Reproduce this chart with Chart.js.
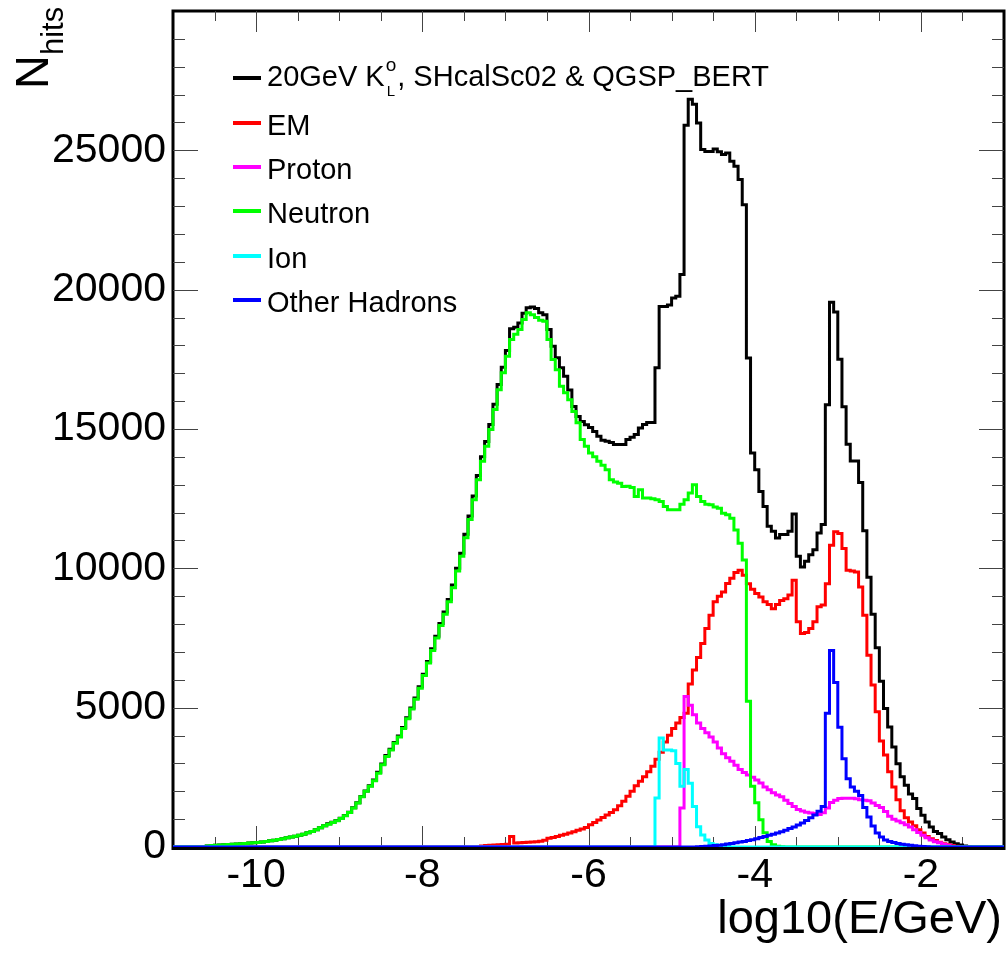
<!DOCTYPE html>
<html><head><meta charset="utf-8">
<script src="https://cdn.jsdelivr.net/npm/chart.js@4.4.1/dist/chart.umd.min.js"></script>
<style>html,body{margin:0;padding:0;background:#fff;overflow:hidden}canvas{display:block}</style>
</head><body>
<canvas id="c" width="1008" height="953"></canvas>
<script>
// ---- histogram binning (log10(E/GeV)) ----
const binLow = -11, binHigh = -1, binWidth = 0.05;

// ---- series values, one value per 0.05 bin, starting at the given bin low edge ----
const totalStart = -10.60;
const total = [
  40,50,60,70,80,90,100,110,120,130,
  140,150,165,180,200,220,240,270,300,330,
  360,390,420,460,510,560,620,690,760,830,
  890,950,1030,1130,1250,1410,1590,1810,2010,2200,
  2400,2680,2980,3280,3510,3750,3980,4290,4640,4990,
  5350,5750,6200,6660,7110,7560,8020,8430,8880,9400,
  10000,10540,11220,11880,12600,13330,14000,14550,15160,15890,
  16600,17220,17820,18600,18650,18800,19150,19350,19380,19320,
  19170,19100,18570,17970,17560,17200,16890,16400,15810,15450,
  15270,15150,15050,14910,14740,14600,14560,14520,14440,14440,
  14440,14620,14700,14800,15040,15160,15230,15230,17200,19400,
  19400,19450,19700,19760,20540,25900,26830,26650,25980,25030,
  24960,24960,25050,24950,24850,24900,24610,24430,23950,23050,
  17550,14140,13540,12760,12220,11510,11330,11090,11210,11210,
  11330,11950,10430,10050,10250,10490,10670,11270,11570,15870,
  19550,19200,17500,15800,14450,13850,13850,13080,11350,9680,
  8350,7150,5950,4970,4310,3590,2990,2520,2220,1900,
  1740,1380,1140,900,720,560,480,360,260,180,
  120,70,35,15
];
const emStart = -7.30;
const em = [
  40,50,60,70,80,90,100,380,140,150,
  160,170,180,190,210,240,310,340,380,420,
  460,500,550,600,650,700,800,880,970,1060,
  1150,1240,1340,1480,1640,1820,2000,2200,2360,2520,
  2700,2900,3150,3400,3770,4010,4250,4450,4650,4800,
  5850,6350,6800,7300,7840,8320,8800,9000,9150,9460,
  9640,9850,9930,9750,9450,9250,9100,8970,8800,8700,
  8550,8700,8850,8910,9040,9570,8080,7660,7700,7840,
  8080,8620,8680,9450,10830,11310,11250,10710,9930,9900,
  9870,9330,8320,6880,5810,4850,3800,3300,2700,2150,
  1700,1300,1050,900,760,620,500,380,300,230,
  170,120,80,50,25,10
];
const protonStart = -4.90;
const proton = [
  1400,5400,5090,4750,4450,4250,4100,3950,3770,3550,
  3350,3200,3080,2930,2780,2670,2580,2500,2400,2300,
  2150,2050,1950,1870,1800,1680,1560,1450,1350,1290,
  1250,1220,1200,1170,1230,1400,1600,1680,1740,1750,
  1750,1745,1730,1700,1680,1660,1580,1490,1420,1270,
  1100,1000,930,870,800,720,620,520,420,330,
  250,190,150,100,60,30,10
];
const neutronStart = -10.60;
const neutron = [
  40,50,60,70,80,90,100,110,120,130,
  140,150,165,180,200,220,240,270,300,330,
  360,390,420,460,510,560,620,690,760,820,
  880,940,1020,1120,1240,1400,1580,1800,2000,2180,
  2380,2650,2950,3250,3480,3720,3950,4250,4600,4950,
  5300,5700,6150,6600,7050,7500,7950,8350,8800,9300,
  9900,10430,11100,11750,12460,13180,13840,14380,14980,15700,
  16410,17020,17610,18210,18400,18570,18930,19170,19100,19000,
  18900,18870,18210,17490,17130,16530,16300,16050,15630,15220,
  14620,14380,14140,14000,13840,13700,13540,13180,13100,13050,
  12940,12950,12900,12580,12820,12520,12520,12500,12460,12400,
  12220,12100,12100,12100,12300,12460,12700,13000,12580,12400,
  12300,12280,12200,12160,11980,11920,11800,11380,10900,10300,
  5230,2180,1590,980,510,200,80,30,10
];
const ionStart = -5.20;
const ion = [1760,3910,3480,3480,3450,3000,2180,2780,2290,1450,730,430,250,130,80,50,30,15];
const otherStart = -4.70;
const other = [
  10,15,25,35,50,65,85,105,130,155,
  180,200,230,260,300,340,380,420,460,500,
  550,600,660,720,790,860,950,1050,1150,1280,
  1450,4800,7050,5900,4300,3170,2450,2150,2000,1850,
  1420,1080,750,500,360,250,200,160,130,100,
  80,60,45,30,20,10
];

// ---- labels / ticks ----
const seriesNames = ['total', 'EM', 'Proton', 'Neutron', 'Ion', 'Other Hadrons'];
const seriesColors = ['#000000', '#ff0000', '#ff00ff', '#00ff00', '#00ffff', '#0000ff'];
const xMajorTicks = [-10, -8, -6, -4, -2];
const xMinorTicks = [-10.5,-10,-9.5,-9,-8.5,-8,-7.5,-7,-6.5,-6,-5.5,-5,-4.5,-4,-3.5,-3,-2.5,-2,-1.5];
const yMajorTicks = [0, 5000, 10000, 15000, 20000, 25000];
const yMinorStep = 1000;
const xTitle = 'log10(E/GeV)';
const yTitleMain = 'N', yTitleSub = 'hits';

function histPoints(start, vals) {
  const n = Math.round((binHigh - binLow) / binWidth);
  const offset = Math.round((start - binLow) / binWidth);
  const pts = [];
  for (let k = 0; k < n; k++) {
    const i = k - offset;
    const y = (i >= 0 && i < vals.length) ? vals[i] : 0;
    pts.push({ x: binLow + k * binWidth, y: y });
  }
  pts.push({ x: binHigh, y: pts[n - 1].y });
  return pts;
}

const FONT = '"Liberation Sans", Arial, Helvetica, sans-serif';
Chart.defaults.font.family = FONT;

const seriesData = [
  [totalStart, total], [emStart, em], [protonStart, proton],
  [neutronStart, neutron], [ionStart, ion], [otherStart, other]
];
const datasets = seriesData.map((s, i) => ({
  label: seriesNames[i],
  data: histPoints(s[0], s[1]),
  borderColor: seriesColors[i],
  backgroundColor: seriesColors[i],
  borderWidth: 3,
  stepped: 'before',
  pointRadius: 0,
  fill: false,
  tension: 0,
  order: 6 - i
}));

const framePlugin = {
  id: 'frameTicks',
  beforeDatasetsDraw(chart) {
    const { ctx, chartArea: a, scales: { x, y } } = chart;
    ctx.save();
    ctx.strokeStyle = '#000';
    ctx.lineWidth = 3;
    ctx.strokeRect(a.left, a.top, a.right - a.left, a.bottom - a.top + 1.5);
    ctx.strokeStyle = '#444';
    ctx.lineWidth = 1;
    ctx.beginPath();
    xMinorTicks.forEach(v => {
      const px = Math.round(x.getPixelForValue(v)) + 0.5;
      const L = xMajorTicks.includes(v) ? 21 : 10;
      ctx.moveTo(px, a.bottom); ctx.lineTo(px, a.bottom - L);
      ctx.moveTo(px, a.top); ctx.lineTo(px, a.top + L);
    });
    for (let v = yMinorStep; v < 30000; v += yMinorStep) {
      const py = Math.round(y.getPixelForValue(v)) + 0.5;
      const L = yMajorTicks.includes(v) ? 25 : 12;
      ctx.moveTo(a.left, py); ctx.lineTo(a.left + L, py);
      ctx.moveTo(a.right, py); ctx.lineTo(a.right - L, py);
    }
    ctx.stroke();
    ctx.restore();
  },
  afterDraw(chart) {
    const { ctx } = chart;
    ctx.save();
    ctx.fillStyle = '#000';
    ctx.textBaseline = 'alphabetic';
    ctx.font = '47px ' + FONT;
    ctx.textAlign = 'right';
    ctx.fillText(xTitle, 1002, 933);
    ctx.textAlign = 'left';
    ctx.translate(48, 89);
    ctx.rotate(-Math.PI / 2);
    ctx.font = '47px ' + FONT;
    ctx.fillText(yTitleMain, 0, 0);
    const wN = ctx.measureText(yTitleMain).width;
    ctx.font = '31px ' + FONT;
    ctx.fillText(yTitleSub, wN, 15);
    ctx.restore();

    ctx.save();
    const ly = [78, 123, 167, 211, 256, 300];
    const tx = 267;
    ly.forEach((yy, i) => {
      ctx.strokeStyle = seriesColors[i];
      ctx.lineWidth = 4;
      ctx.beginPath(); ctx.moveTo(233, yy); ctx.lineTo(261, yy); ctx.stroke();
    });
    ctx.fillStyle = '#000';
    ctx.textAlign = 'left';
    ctx.textBaseline = 'alphabetic';
    ctx.font = '29px ' + FONT;
    const p1 = '20GeV K';
    ctx.fillText(p1, tx, 86);
    let w = ctx.measureText(p1).width;
    ctx.font = '19px ' + FONT;
    ctx.fillText('o', tx + w + 1, 71);
    const wo = ctx.measureText('o').width;
    ctx.font = '15px ' + FONT;
    ctx.fillText('L', tx + w + 2, 96);
    const wl = ctx.measureText('L').width;
    ctx.font = '29px ' + FONT;
    ctx.fillText(', SHcalSc02 & QGSP_BERT', tx + w + Math.max(wo, wl + 1) + 2, 86);
    for (let i = 1; i < seriesNames.length; i++) {
      ctx.fillText(seriesNames[i], tx, ly[i] + 12);
    }
    ctx.restore();
  }
};

new Chart(document.getElementById('c'), {
  type: 'line',
  data: { datasets: datasets },
  options: {
    responsive: false,
    animation: false,
    devicePixelRatio: 1,
    layout: { padding: { top: 11, right: 4, left: 0, bottom: 0 } },
    plugins: { legend: { display: false }, tooltip: { enabled: false }, title: { display: false } },
    elements: { point: { radius: 0 }, line: { tension: 0 } },
    scales: {
      x: {
        type: 'linear', min: binLow, max: binHigh,
        grid: { display: false, drawTicks: false },
        border: { display: false },
        afterFit: s => { s.height = 106; s.paddingLeft = 0; s.paddingRight = 0; },
        afterBuildTicks: s => { s.ticks = xMajorTicks.map(v => ({ value: v })); },
        ticks: {
          autoSkip: false, maxRotation: 0, padding: 4, color: '#000',
          font: { size: 41, family: FONT },
          callback: v => String(v)
        }
      },
      y: {
        type: 'linear', min: 0, max: 30000,
        grid: { display: false, drawTicks: false },
        border: { display: false },
        afterFit: s => { s.width = 173; s.paddingTop = 0; s.paddingBottom = 0; },
        afterBuildTicks: s => { s.ticks = yMajorTicks.map(v => ({ value: v })); },
        ticks: {
          autoSkip: false, padding: 7, color: '#000',
          font: { size: 41, family: FONT },
          callback: v => String(v)
        }
      }
    }
  },
  plugins: [framePlugin]
});
</script>
</body></html>
